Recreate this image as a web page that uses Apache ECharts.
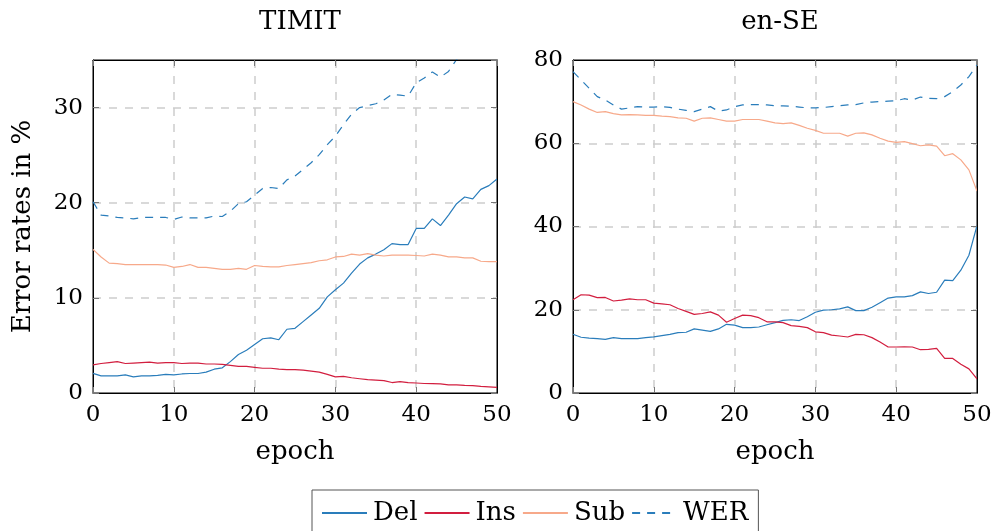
<!DOCTYPE html>
<html><head><meta charset="utf-8">
<script src="https://cdn.jsdelivr.net/npm/echarts@6/dist/echarts.min.js"></script>
<style>html,body{margin:0;padding:0;background:#fff}#c{width:995px;height:531px}</style>
</head><body><div id="c"></div>
<script>
const epochs = Array.from({length: 51}, (_, i) => i);
const titles = ['TIMIT', 'en-SE'];
const seriesNames = ['Del', 'Ins', 'Sub', 'WER'];
const xTicks = [0, 10, 20, 30, 40, 50];
const yTicksTimit = [0, 10, 20, 30];
const yTicksEnSE = [0, 20, 40, 60, 80];

const timitDel = [2.07,1.8,1.8,1.8,1.9,1.7,1.8,1.8,1.85,1.95,1.9,2.0,2.05,2.05,2.2,2.5,2.65,3.3,4.05,4.5,5.1,5.7,5.8,5.6,6.7,6.8,7.5,8.2,8.9,10.1,10.85,11.55,12.6,13.55,14.2,14.6,15.05,15.7,15.6,15.6,17.3,17.3,18.3,17.6,18.7,19.9,20.6,20.4,21.4,21.8,22.5];
const timitIns = [2.95,3.1,3.2,3.3,3.1,3.15,3.2,3.25,3.15,3.2,3.2,3.1,3.15,3.15,3.05,3.05,3.0,2.9,2.8,2.8,2.7,2.6,2.6,2.5,2.45,2.45,2.4,2.3,2.2,1.95,1.7,1.75,1.6,1.5,1.4,1.35,1.3,1.1,1.2,1.1,1.05,1.0,0.98,0.95,0.85,0.85,0.8,0.77,0.7,0.65,0.6];
const timitSub = [15.1,14.3,13.65,13.6,13.5,13.5,13.5,13.5,13.5,13.45,13.2,13.3,13.5,13.2,13.2,13.1,13.0,13.0,13.1,13.0,13.4,13.3,13.25,13.25,13.4,13.5,13.6,13.7,13.9,14.0,14.3,14.35,14.6,14.5,14.65,14.5,14.4,14.5,14.5,14.5,14.45,14.4,14.6,14.5,14.3,14.3,14.2,14.2,13.85,13.8,13.8];
const timitWer = [20.1,18.7,18.6,18.45,18.4,18.3,18.45,18.45,18.45,18.45,18.25,18.5,18.4,18.4,18.4,18.6,18.55,19.1,19.9,20.1,20.8,21.5,21.6,21.5,22.4,22.8,23.5,24.2,25.05,26.1,27.0,28.2,29.3,30.0,30.2,30.4,30.8,31.4,31.3,31.2,32.6,33.1,33.75,33.2,33.8,35.05,36.0,36.6,37.4,38.0,38.8];

const enDel = [14.1,13.4,13.2,13.05,12.9,13.3,13.05,13.05,13.05,13.3,13.5,13.8,14.1,14.5,14.6,15.4,15.1,14.8,15.4,16.5,16.3,15.7,15.7,15.85,16.4,16.9,17.45,17.6,17.4,18.3,19.4,19.9,20.0,20.2,20.7,19.8,19.8,20.6,21.7,22.8,23.1,23.1,23.4,24.3,23.9,24.2,27.1,27.0,29.5,33.1,40.2];
const enIns = [22.4,23.6,23.5,22.9,22.95,22.1,22.3,22.6,22.4,22.4,21.6,21.4,21.2,20.3,19.6,18.9,19.1,19.5,18.7,17.0,17.9,18.7,18.6,18.1,17.1,17.1,16.9,16.2,16.0,15.7,14.7,14.5,13.9,13.7,13.45,14.1,14.0,13.3,12.25,11.05,11.05,11.1,11.05,10.4,10.5,10.7,8.3,8.3,6.9,5.8,3.4];
const enSub = [70.0,69.2,68.2,67.4,67.6,67.1,66.8,66.9,66.8,66.7,66.7,66.5,66.4,66.1,66.0,65.3,66.0,66.1,65.7,65.3,65.3,65.7,65.7,65.7,65.3,64.9,64.7,64.9,64.3,63.6,63.1,62.4,62.4,62.4,61.7,62.4,62.5,62.0,61.2,60.5,60.2,60.4,59.9,59.4,59.6,59.3,57.0,57.5,56.0,53.6,48.5];
const enWer = [77.2,75.2,73.2,71.2,70.4,69.2,68.2,68.5,68.8,68.7,68.7,68.8,68.6,68.2,67.9,67.6,68.2,68.8,67.7,68.0,68.8,69.2,69.3,69.3,69.2,69.0,69.0,68.9,68.7,68.5,68.5,68.6,68.8,69.0,69.2,69.3,69.7,69.9,70.0,70.1,70.2,70.7,70.4,71.1,70.8,70.7,71.2,72.4,74.0,76.0,78.8];

const colors = {Del: '#2a7dbb', Ins: '#d21e3f', Sub: '#f7a98a', WER: '#2a7dbb'};
const FONT = 'DejaVu Serif';
const FS = 26;   // titles, names, legend
const TFS = 23;  // tick labels

const grids = [
  {left: 93, right: 498, top: 60, bottom: 138, show: true, borderColor: '#000', borderWidth: 1},
  {left: 573, right: 18, top: 60, bottom: 138, show: true, borderColor: '#000', borderWidth: 1}
];
const yTickLists = [yTicksTimit, yTicksEnSE];
const yMax = [35, 80];
const yInt = [10, 20];
const gridLine = {show: true, showMinLine: false, showMaxLine: false,
  lineStyle: {color: '#cdcdcd', type: [8, 8], width: 1.5}};
const tick = {show: true, inside: true, length: 6, lineStyle: {color: '#777'}};
const frame = {show: true, onZero: false, lineStyle: {color: '#000', width: 1}};

const xAxes = [], yAxes = [];
[0, 1].forEach(g => {
  xAxes.push({
    type: 'value', gridIndex: g, min: 0, max: 50, interval: 10,
    name: 'epoch', nameLocation: 'middle', nameGap: 46,
    nameTextStyle: {fontFamily: FONT, fontSize: FS, color: '#000'},
    axisLine: frame,
    axisTick: tick,
    axisLabel: {fontFamily: FONT, fontSize: TFS, color: '#000', margin: 11,
      formatter: v => xTicks.includes(v) ? String(v) : ''},
    splitLine: gridLine
  });
  xAxes.push({
    type: 'value', gridIndex: g, position: 'top', min: 0, max: 50, interval: 10, z: 5,
    axisLine: frame, axisTick: tick, axisLabel: {show: false}, splitLine: {show: false}
  });
  yAxes.push({
    type: 'value', gridIndex: g, min: 0, max: yMax[g], interval: yInt[g],
    name: g === 0 ? 'Error rates in %' : '', nameLocation: 'middle', nameGap: 57, nameRotate: 90,
    nameTextStyle: {fontFamily: FONT, fontSize: FS, color: '#000'},
    axisLine: frame,
    axisTick: tick,
    axisLabel: {fontFamily: FONT, fontSize: TFS, color: '#000', margin: 10, showMaxLabel: g === 1,
      formatter: v => yTickLists[g].includes(v) ? String(v) : ''},
    splitLine: gridLine
  });
  yAxes.push({
    type: 'value', gridIndex: g, position: 'right', min: 0, max: yMax[g], interval: yInt[g], z: 5,
    axisLine: frame, axisTick: tick, axisLabel: {show: false}, splitLine: {show: false}
  });
});

function mk(name, data, g) {
  return {
    name, type: 'line', xAxisIndex: g * 2, yAxisIndex: g * 2,
    data: epochs.map((e, i) => [e, data[i]]),
    symbol: 'none', clip: true,
    lineStyle: {color: colors[name], width: 1.2, type: name === 'WER' ? [8, 7] : 'solid'},
    itemStyle: {color: colors[name]}
  };
}
const series = [
  mk('Del', timitDel, 0), mk('Ins', timitIns, 0), mk('Sub', timitSub, 0), mk('WER', timitWer, 0),
  mk('Del', enDel, 1), mk('Ins', enIns, 1), mk('Sub', enSub, 1), mk('WER', enWer, 1)
];

const chart = echarts.init(document.getElementById('c'), null, {renderer: 'canvas'});
chart.setOption({
  animation: false,
  title: [
    {text: titles[0], left: 295, top: 4, textAlign: 'center', textStyle: {fontFamily: FONT, fontSize: FS, fontWeight: 'normal', color: '#000'}},
    {text: titles[1], left: 775, top: 4, textAlign: 'center', textStyle: {fontFamily: FONT, fontSize: FS, fontWeight: 'normal', color: '#000'}}
  ],
  legend: {
    data: seriesNames, left: 312, top: 490, itemWidth: 45, itemHeight: 12, itemGap: 6,
    borderColor: '#555', borderWidth: 1, padding: [10, 10, 10, 9],
    itemStyle: {opacity: 0},
    textStyle: {fontFamily: FONT, fontSize: FS, color: '#000', padding: [0, 0, 0, 1]}
  },
  grid: grids, xAxis: xAxes, yAxis: yAxes, series
});
</script></body></html>
